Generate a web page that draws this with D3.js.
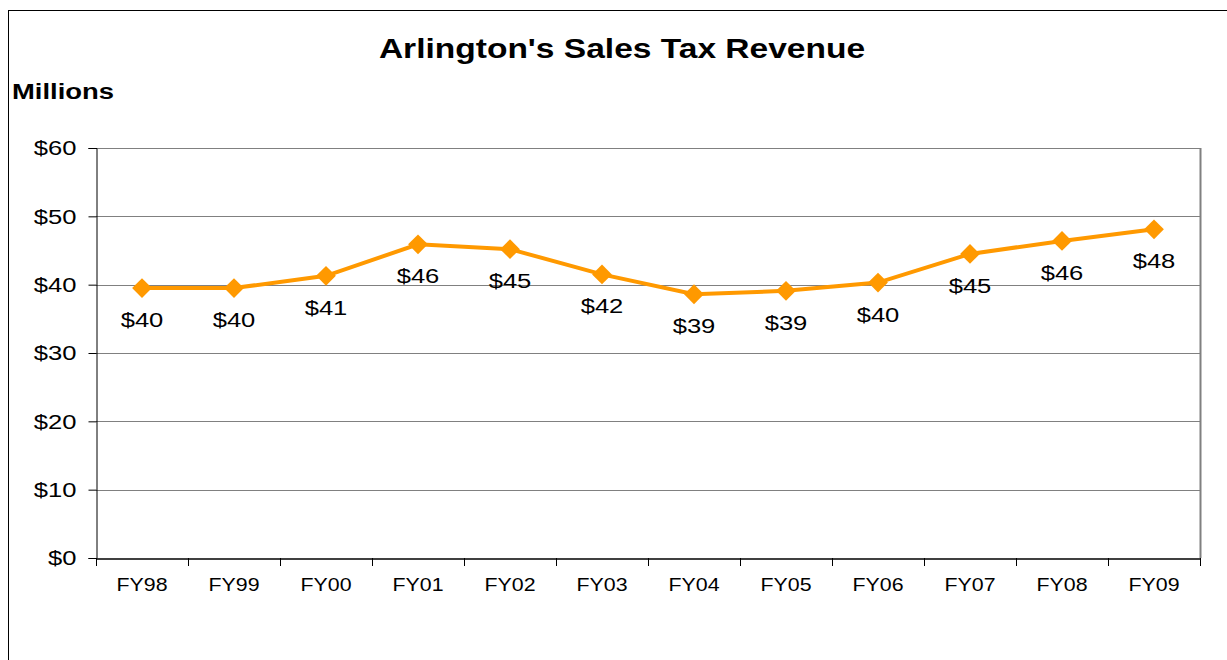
<!DOCTYPE html>
<html>
<head>
<meta charset="utf-8">
<script src="https://cdn.jsdelivr.net/npm/d3@7"></script>
<style>
  body { margin: 0; background: #fff; }
  svg { display: block; font-family: "Liberation Sans", Arial, sans-serif; }
</style>
</head>
<body>
<div id="chart"></div>
<script>
// chart data
var years = ["FY98", "FY99", "FY00", "FY01", "FY02", "FY03", "FY04", "FY05", "FY06", "FY07", "FY08", "FY09"];
var revenue = [39.5, 39.5, 41.3, 45.9, 45.2, 41.5, 38.6, 39.1, 40.3, 44.5, 46.4, 48.1];
var labels = ["$40", "$40", "$41", "$46", "$45", "$42", "$39", "$39", "$40", "$45", "$46", "$48"];
var yTicks = [0, 10, 20, 30, 40, 50, 60];

var width = 1227, height = 660;
var margin = { top: 148, right: 27, bottom: 102, left: 96 };
var stretch = 1.22; // the original text is drawn a little wide

var svg = d3.select("#chart").append("svg")
	.attr("width", width)
	.attr("height", height);

// outer frame (runs off the right and bottom)
svg.append("rect")
	.attr("x", 8.5).attr("y", 10.5)
	.attr("width", 1240).attr("height", 700)
	.attr("fill", "none")
	.attr("stroke", "#000")
	.attr("stroke-width", 1);

var x = d3.scaleBand()
	.domain(years)
	.range([margin.left, width - margin.right]);

var y = d3.scaleLinear()
	.domain([0, 60])
	.range([height - margin.bottom, margin.top]);

// gridlines
svg.append("g")
	.selectAll("line")
	.data(yTicks.filter(function(d) { return d > 0; }))
	.enter().append("line")
	.attr("x1", margin.left)
	.attr("x2", width - margin.right)
	.attr("y1", function(d) { return Math.round(y(d)) + 0.5; })
	.attr("y2", function(d) { return Math.round(y(d)) + 0.5; })
	.attr("stroke", "#808080")
	.attr("stroke-width", 1);

// right edge of plot
svg.append("line")
	.attr("x1", width - margin.right + 0.5)
	.attr("x2", width - margin.right + 0.5)
	.attr("y1", margin.top)
	.attr("y2", height - margin.bottom)
	.attr("stroke", "#808080")
	.attr("stroke-width", 2);

// y axis
var yAxis = svg.append("g")
	.attr("transform", "translate(" + (margin.left + 0.5) + ",0)")
	.call(d3.axisLeft(y).tickValues(yTicks).tickSize(8).tickPadding(12)
		.tickFormat(function(d) { return "$" + d; }));
yAxis.select(".domain").attr("stroke", "#000");
yAxis.selectAll(".tick line").attr("stroke", "#000");
yAxis.selectAll("text")
	.attr("font-size", "21px")
	.attr("fill", "#000")
	.attr("font-family", "Liberation Sans, Arial, sans-serif")
	.attr("x", -20 / stretch)
	.attr("transform", "scale(" + stretch + ",1)");

// x axis
var xAxis = svg.append("g")
	.attr("transform", "translate(0," + (height - margin.bottom + 0.5) + ")")
	.call(d3.axisBottom(x).tickSize(0).tickPadding(20));
xAxis.select(".domain").attr("stroke", "#000").attr("stroke-width", 1.5);
xAxis.selectAll("text")
	.attr("font-size", "17.5px")
	.attr("fill", "#000")
	.attr("font-family", "Liberation Sans, Arial, sans-serif")
	.attr("transform", "scale(" + stretch + ",1)");

// tick marks between categories
svg.append("g")
	.selectAll("line")
	.data(years.concat([null]))
	.enter().append("line")
	.attr("x1", function(d, i) { return Math.round(margin.left + i * x.step()) + 0.5; })
	.attr("x2", function(d, i) { return Math.round(margin.left + i * x.step()) + 0.5; })
	.attr("y1", height - margin.bottom)
	.attr("y2", height - margin.bottom + 8)
	.attr("stroke", "#000");

// series line
var line = d3.line()
	.x(function(d, i) { return x(years[i]) + x.bandwidth() / 2; })
	.y(function(d) { return y(d); });

svg.append("path")
	.datum(revenue)
	.attr("d", line)
	.attr("fill", "none")
	.attr("stroke", "#FF9900")
	.attr("stroke-width", 4);

// diamond markers
svg.append("g")
	.selectAll("path")
	.data(revenue)
	.enter().append("path")
	.attr("d", d3.symbol().type(d3.symbolDiamond2).size(250))
	.attr("transform", function(d, i) {
		return "translate(" + (x(years[i]) + x.bandwidth() / 2) + "," + y(d) + ")";
	})
	.attr("fill", "#FF9900");

// data labels below points
svg.append("g")
	.selectAll("text")
	.data(revenue)
	.enter().append("text")
	.attr("transform", function(d, i) {
		return "translate(" + (x(years[i]) + x.bandwidth() / 2) + "," + (y(d) + 39) + ") scale(" + stretch + ",1)";
	})
	.attr("text-anchor", "middle")
	.attr("font-size", "21px")
	.attr("fill", "#000")
	.text(function(d, i) { return labels[i]; });

// title
svg.append("text")
	.attr("transform", "translate(622,58) scale(" + stretch + ",1)")
	.attr("text-anchor", "middle")
	.attr("font-size", "27.5px")
	.attr("font-weight", "bold")
	.text("Arlington's Sales Tax Revenue");

svg.append("text")
	.attr("transform", "translate(12,99) scale(" + stretch + ",1)")
	.attr("font-size", "22.5px")
	.attr("font-weight", "bold")
	.text("Millions");
</script>
</body>
</html>
